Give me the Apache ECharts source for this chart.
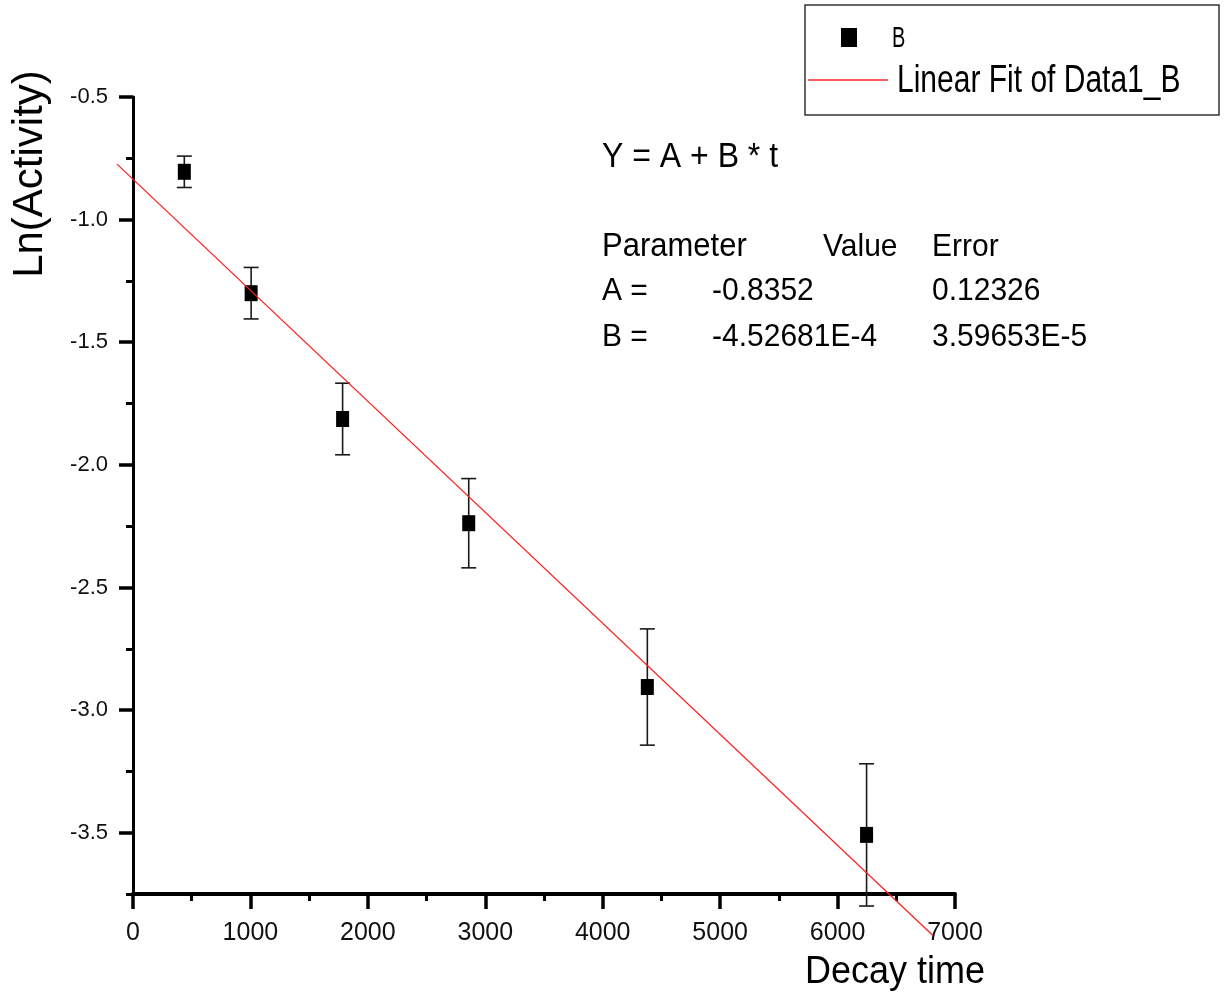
<!DOCTYPE html>
<html>
<head>
<meta charset="utf-8">
<script src="https://cdn.jsdelivr.net/npm/echarts@6/dist/echarts.min.js"></script>
<style>
  html, body { margin: 0; padding: 0; background: #ffffff; }
  #chart { width: 1226px; height: 1004px; }
</style>
</head>
<body>
<div id="chart"></div>
<script>
// Measured decay data: time, ln(activity) and its uncertainty
const decayTime  = [437, 1006, 1785, 2859, 4380, 6247];
const lnActivity = [-0.805, -1.300, -1.813, -2.238, -2.906, -3.509];
const lnError    = [0.064, 0.105, 0.146, 0.182, 0.237, 0.290];

// Linear fit Y = A + B * t and the t-range the fitted line is drawn over
const fitA = -0.8352;
const fitB = -4.52681e-4;
const fitRange = [-136, 6810];

// Axis ticks
const xTickStep = 1000;
const yMajorTicks = [-3.5, -3.0, -2.5, -2.0, -1.5, -1.0, -0.5];
const yMinorTicks = [-3.75, -3.25, -2.75, -2.25, -1.75, -1.25, -0.75];

// Fit-result table
const equationText = 'Y = A + B * t';
const tableHeader = ['Parameter', 'Value', 'Error'];
const tableRowA = ['A =', '-0.8352', '0.12326'];
const tableRowB = ['B =', '-4.52681E-4', '3.59653E-5'];

const SANS = "'Liberation Sans', Arial, sans-serif";

const points = decayTime.map((t, i) => [t, lnActivity[i]]);
const bars = decayTime.map((t, i) => [t, lnActivity[i], lnError[i]]);
const fitSegment = [[fitRange[0], fitA + fitB * fitRange[0], fitRange[1], fitA + fitB * fitRange[1]]];

const chart = echarts.init(document.getElementById('chart'), null, { renderer: 'canvas' });

function txt(x, y, text, size, opts) {
  opts = opts || {};
  return {
    type: 'text', x: x, y: y, silent: true,
    rotation: opts.rotation || 0,
    scaleX: opts.scaleX || 1, scaleY: opts.scaleY || 1,
    style: { text: text, fontSize: size, fontFamily: SANS, fill: '#000',
             textAlign: opts.align || 'left', textVerticalAlign: 'middle' }
  };
}

const option = {
  backgroundColor: '#ffffff',
  animation: false,
  grid: { left: 133, right: 271, top: 97, bottom: 110, containLabel: false },
  xAxis: {
    type: 'value', min: 0, max: 7000, interval: xTickStep,
    axisLine: { show: true, onZero: false, lineStyle: { color: '#000', width: 4 } },
    axisTick: { show: true, inside: false, length: 15, lineStyle: { color: '#000', width: 3.5 } },
    minorTick: { show: true, splitNumber: 2, length: 7, lineStyle: { color: '#000', width: 3 } },
    axisLabel: { margin: 27, fontSize: 25, fontFamily: SANS, color: '#111',
                 formatter: v => String(v) },
    splitLine: { show: false }, minorSplitLine: { show: false }
  },
  yAxis: [
    {
      type: 'value', min: -3.75, max: -0.5,
      axisLine: { show: true, onZero: false, lineStyle: { color: '#000', width: 3 } },
      axisTick: { show: true, inside: false, length: 14, customValues: yMajorTicks,
                  lineStyle: { color: '#000', width: 3.5 } },
      axisLabel: { margin: 25, fontSize: 22, fontFamily: SANS, color: '#111',
                   customValues: yMajorTicks, formatter: v => v.toFixed(1) },
      splitLine: { show: false }
    },
    {
      type: 'value', min: -3.75, max: -0.5, position: 'left', offset: 0,
      axisLine: { show: false },
      axisTick: { show: true, inside: false, length: 7, customValues: yMinorTicks,
                  lineStyle: { color: '#000', width: 3 } },
      axisLabel: { show: false },
      splitLine: { show: false }
    }
  ],
  series: [
    {
      name: 'B error', type: 'custom', clip: false, z: 3,
      data: bars,
      encode: { x: 0, y: 1 },
      renderItem: function (params, api) {
        const x = api.value(0), y = api.value(1), e = api.value(2);
        const top = api.coord([x, y + e]);
        const bot = api.coord([x, y - e]);
        const hw = 7.5;
        const st = { stroke: '#1a1a1a', lineWidth: 1.6 };
        return {
          type: 'group',
          children: [
            { type: 'line', shape: { x1: top[0], y1: top[1], x2: bot[0], y2: bot[1] }, style: st },
            { type: 'line', shape: { x1: top[0] - hw, y1: top[1], x2: top[0] + hw, y2: top[1] }, style: st },
            { type: 'line', shape: { x1: bot[0] - hw, y1: bot[1], x2: bot[0] + hw, y2: bot[1] }, style: st }
          ]
        };
      }
    },
    {
      name: 'B', type: 'scatter', z: 4,
      symbol: 'rect', symbolSize: [13, 16],
      itemStyle: { color: '#000', opacity: 1 },
      data: points
    },
    {
      name: 'Linear Fit of Data1_B', type: 'custom', clip: false, z: 5,
      data: fitSegment,
      encode: { x: [0, 2], y: [1, 3] },
      renderItem: function (params, api) {
        const p0 = api.coord([api.value(0), api.value(1)]);
        const p1 = api.coord([api.value(2), api.value(3)]);
        return {
          type: 'line',
          shape: { x1: p0[0], y1: p0[1], x2: p1[0], y2: p1[1] },
          style: { stroke: '#ff2020', lineWidth: 1.3 }
        };
      }
    }
  ],
  graphic: [
    // axis titles
    txt(30, 174, 'Ln(Activity)', 42, { rotation: Math.PI / 2, align: 'center' }),
    txt(985, 972, 'Decay time', 36, { align: 'right', scaleY: 1.08 }),
    // legend box
    {
      type: 'rect', silent: true,
      shape: { x: 805, y: 5, width: 414, height: 110 },
      style: { fill: '#fff', stroke: '#333', lineWidth: 1.5 }
    },
    {
      type: 'rect', silent: true,
      shape: { x: 841, y: 28, width: 16, height: 19 },
      style: { fill: '#000' }
    },
    txt(892, 39, 'B', 20, { scaleY: 1.45 }),
    {
      type: 'line', silent: true,
      shape: { x1: 808, y1: 80, x2: 888, y2: 80 },
      style: { stroke: '#ff2020', lineWidth: 1.5 }
    },
    txt(897, 81, 'Linear Fit of Data1_B', 30, { scaleY: 1.3 }),
    // fit equation and parameter table
    txt(602, 157, equationText, 32, { scaleY: 1.12 }),
    txt(602, 247, tableHeader[0], 31, { scaleY: 1.05 }),
    txt(823, 247, tableHeader[1], 30, { scaleY: 1.05 }),
    txt(932, 247, tableHeader[2], 30, { scaleY: 1.05 }),
    txt(602, 291, tableRowA[0], 30, { scaleY: 1.05 }),
    txt(712, 291, tableRowA[1], 30, { scaleY: 1.05 }),
    txt(932, 291, tableRowA[2], 30, { scaleY: 1.05 }),
    txt(602, 337, tableRowB[0], 30, { scaleY: 1.05 }),
    txt(712, 337, tableRowB[1], 30, { scaleY: 1.05 }),
    txt(932, 337, tableRowB[2], 30, { scaleY: 1.05 })
  ]
};

chart.setOption(option);
</script>
</body>
</html>
